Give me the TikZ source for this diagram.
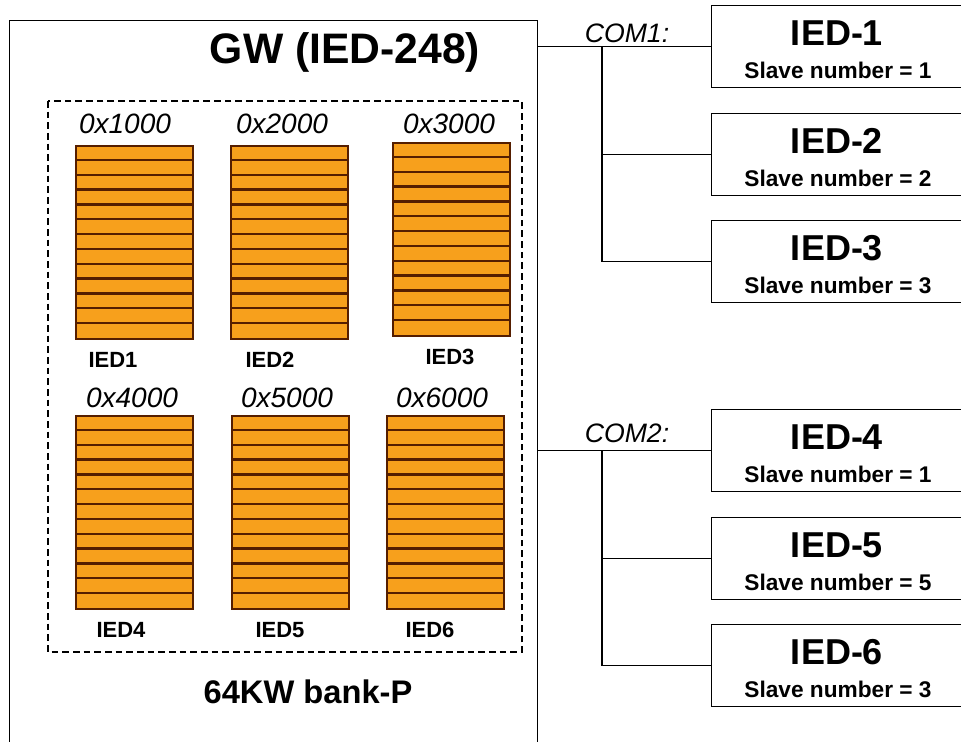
\documentclass[tikz,border=0pt]{standalone}
\usepackage{fontspec}
\setmainfont{Liberation Sans}
\definecolor{bankorange}{RGB}{247,160,28}
\definecolor{stripebrown}{RGB}{85,30,0}

\begin{document}
\begin{tikzpicture}[x=0.75pt,y=-0.75pt,
  every node/.style={inner sep=0pt},
  frame/.style={draw=black, line width=1.1pt},
  wire/.style={draw=black, line width=1.1pt},
  bank/.style={draw=stripebrown, fill=bankorange, line width=1.2pt, minimum width=87.75pt, minimum height=144.75pt, anchor=north west},
  stripe/.style={draw=stripebrown, line width=1.7pt},
  addr/.style={font=\fontsize{21}{24}\selectfont\itshape},
  iedlbl/.style={font=\fontsize{16.5}{19}\selectfont\bfseries},
  iedbox/.style={frame, minimum width=190.5pt, minimum height=61.5pt, anchor=north west},
  iedname/.style={font=\fontsize{27}{30}\selectfont\bfseries},
  slave/.style={font=\fontsize{17}{20}\selectfont\bfseries},
  com/.style={font=\fontsize{20}{23}\selectfont\itshape}]
\useasboundingbox (0,0) rectangle (961,742);
\clip (0,0) rectangle (961,742);

% gateway with its memory bank
\node[frame, minimum width=396pt, minimum height=600pt, anchor=north west] (gw) at (9,20) {};
\node[font=\fontsize{32}{36}\selectfont\bfseries] (gwtitle) at (345,52) {GW (IED-248)};
\draw[dashed, line width=1pt, dash pattern=on 5pt off 3pt] (48,101) rectangle (522,652);
\node[font=\fontsize{24.5}{28}\selectfont\bfseries] (banklbl) at (308,692) {64KW bank-P};

\foreach \n/\x/\y/\addr/\ax/\ay/\lx in {1/75/145/1000/125/124/113, 2/230/145/2000/282/124/270,
                                        3/392/142/3000/449/124/450, 4/75/415/4000/132/398/121,
                                        5/231/415/5000/287/398/280, 6/386/415/6000/442/398/430} {
  \node[bank] (bar\n) at (\x,\y) {};
  \foreach \k in {1,...,12}
    \draw[stripe] (\x,{\y+\k*193/13}) -- ++(117,0);
  \node[addr] (addr\n) at (\ax,\ay) {0x\addr};
  \node[iedlbl] (lbl\n) at (\lx,{\y+215}) {IED\n};
}

% slave devices
\foreach \n/\top/\slv in {1/5/1, 2/113/2, 3/220/3, 4/409/1, 5/517/5, 6/624/3} {
  \node[iedbox] (ied\n) at (711,\top) {};
  \node[iedname] (name\n) at (837,{\top+28}) {IED-\n};
  \node[slave] (slv\n) at (838,{\top+65}) {Slave number = \slv};
}

% COM lines
\node[com] (com1) at (627,33) {COM1:};
\node[com] (com2) at (627,433) {COM2:};
\path (ied1.west) ++(-109,0) coordinate (bus1);
\path (ied4.west) ++(-109,0) coordinate (bus2);
\draw[wire] (gw.east |- ied1.west) -- (ied1.west);
\draw[wire] (bus1) |- (ied3.west);
\draw[wire] (bus1 |- ied2.west) -- (ied2.west);
\draw[wire] (gw.east |- ied4.west) -- (ied4.west);
\draw[wire] (bus2) |- (ied6.west);
\draw[wire] (bus2 |- ied5.west) -- (ied5.west);
\end{tikzpicture}
\end{document}
